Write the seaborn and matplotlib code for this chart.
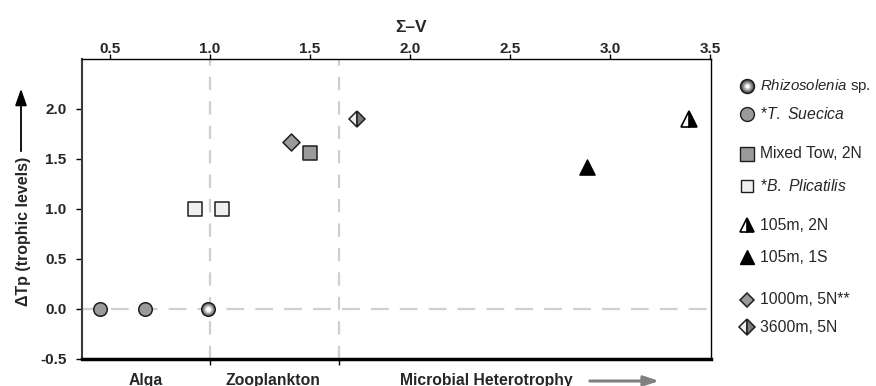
import numpy as np
import pandas as pd
import matplotlib
matplotlib.use("Agg")
import matplotlib.pyplot as plt
import matplotlib.transforms as mtransforms
import seaborn as sns

sns.set_theme(style="white")
plt.rcParams['font.family'] = ['Liberation Sans', 'DejaVu Sans']
plt.rcParams['mathtext.fontset'] = 'custom'
plt.rcParams['mathtext.rm'] = 'Liberation Sans'
plt.rcParams['mathtext.it'] = 'Liberation Sans:italic'
plt.rcParams['mathtext.bf'] = 'Liberation Sans:bold'

# ---------------- data ----------------
rhizo_x = [0.99]
rhizo_y = [0.0]
suecica_x = [0.45, 0.675]
suecica_y = [0.0, 0.0]
mixedtow_x = [1.50]
mixedtow_y = [1.56]
plicatilis_x = [0.925, 1.06]
plicatilis_y = [1.0, 1.0]
m105_2n_x = [3.395]
m105_2n_y = [1.90]
m105_1s_x = [2.885]
m105_1s_y = [1.42]
m1000_x = [1.405]
m1000_y = [1.67]
m3600_x = [1.735]
m3600_y = [1.90]

x_ticks = [0.5, 1.0, 1.5, 2.0, 2.5, 3.0, 3.5]
y_ticks = [-0.5, 0.0, 0.5, 1.0, 1.5, 2.0]
divider_x = [1.0, 1.645]
region_labels = ["Alga", "Zooplankton", "Microbial Heterotrophy"]
region_x = [0.68, 1.315, 1.95]
region_ha = ["center", "center", "left"]

legend_labels = ["$\\mathit{Rhizosolenia}$ sp.", "*$\\mathit{T.}$ $\\mathit{Suecica}$", "Mixed Tow, 2N",
                 "*$\\mathit{B.}$ $\\mathit{Plicatilis}$", "105m, 2N", "105m, 1S", "1000m, 5N**", "3600m, 5N"]

W, H = 876, 386
fig = plt.figure(figsize=(W / 100, H / 100), dpi=100)
ax = fig.add_axes([82 / W, 1 - 359 / H, (711 - 82) / W, (359 - 59) / H])

GREY = "#9a9a9a"
EDGE = "#1e1e1e"

# reference lines
for xv in divider_x:
    ax.axvline(xv, color="#cfcfcf", lw=1.6, dashes=(6, 5), zorder=1)
ax.axhline(0.0, color="#cfcfcf", lw=1.6, dashes=(8, 5), zorder=1)

def pts(xs, ys):
    return pd.DataFrame({"x": xs, "y": ys})

# grey circles
sns.scatterplot(data=pts(suecica_x, suecica_y), x="x", y="y", marker="o", s=95,
                color=GREY, edgecolor=EDGE, linewidth=1.1, ax=ax, zorder=3)
# gradient circle (radial)
for s, c in zip([95, 70, 48, 28, 12], ["#555555", "#7a7a7a", "#a5a5a5", "#d2d2d2", "#ffffff"]):
    sns.scatterplot(data=pts(rhizo_x, rhizo_y), x="x", y="y", marker="o", s=s,
                    color=c, edgecolor=EDGE if s == 95 else c,
                    linewidth=1.1 if s == 95 else 0, ax=ax, zorder=4)
# squares
sns.scatterplot(data=pts(plicatilis_x, plicatilis_y), x="x", y="y", marker="s", s=100,
                color="#efefef", edgecolor=EDGE, linewidth=1.1, ax=ax, zorder=3)
sns.scatterplot(data=pts(mixedtow_x, mixedtow_y), x="x", y="y", marker="s", s=110,
                color=GREY, edgecolor=EDGE, linewidth=1.1, ax=ax, zorder=3)
# triangles
sns.scatterplot(data=pts(m105_1s_x, m105_1s_y), x="x", y="y", marker="^", s=120,
                color="black", edgecolor="black", linewidth=1, ax=ax, zorder=3)
ax.plot(m105_2n_x, m105_2n_y, linestyle="none", marker="^", markersize=11,
        fillstyle="right", markerfacecolor="black", markerfacecoloralt="white",
        markeredgecolor="black", markeredgewidth=1.2, zorder=3)
# diamonds
sns.scatterplot(data=pts(m1000_x, m1000_y), x="x", y="y", marker="D", s=75,
                color=GREY, edgecolor=EDGE, linewidth=1.1, ax=ax, zorder=3)
ax.plot(m3600_x, m3600_y, linestyle="none", marker="D", markersize=8.5,
        fillstyle="left", markerfacecolor="#eeeeee", markerfacecoloralt="#7a7a7a",
        markeredgecolor=EDGE, markeredgewidth=1.1, zorder=3)

ax.set_xlim(0.36, 3.505)
ax.set_ylim(-0.5, 2.5)

# top axis
ax.xaxis.tick_top()
ax.set_xticks(x_ticks)
ax.set_xticklabels([f"{v:.1f}" for v in x_ticks], fontweight="bold", fontsize=11)
ax.xaxis.set_label_position("top")
ax.set_xlabel("Σ–V", fontweight="bold", fontsize=12.5)
ax.xaxis.set_label_coords((411 - 82) / 629, (359 - 32) / 300)
ax.tick_params(axis="x", top=True, bottom=False, direction="out", length=3.5, width=1,
               color="black", pad=-1)

# bottom ticks without labels
sec = ax.secondary_xaxis("bottom")
sec.set_xticks(divider_x)
sec.set_xticklabels([])
sec.tick_params(direction="out", length=4, width=1, color="black")
sec.spines["bottom"].set_visible(False)

ax.set_yticks(y_ticks)
ax.set_yticklabels([f"{v:.1f}" for v in y_ticks], fontweight="bold", fontsize=11)
ax.tick_params(axis="y", left=True, direction="out", length=4, width=1, color="black", pad=7)
ax.set_ylabel("ΔTp (trophic levels)", fontweight="bold", fontsize=11.5)
ax.yaxis.set_label_coords((31 - 82) / 629, (359 - 231) / 300)

for side in ["top", "right"]:
    ax.spines[side].set_color("black")
    ax.spines[side].set_linewidth(1.0)
ax.spines["left"].set_color("#3a3a3a")
ax.spines["left"].set_linewidth(1.5)
ax.spines["bottom"].set_color("black")
ax.spines["bottom"].set_linewidth(2.5)
ax.grid(False)

# y label arrow
fig.add_artist(matplotlib.patches.FancyArrowPatch(
    (21 / W, 1 - 154 / H), (21 / W, 1 - 86 / H), transform=fig.transFigure,
    arrowstyle="-|>,head_length=10,head_width=3.5", mutation_scale=1, color="black", lw=1.3))

# region labels under the axis
trans = mtransforms.blended_transform_factory(ax.transData, fig.transFigure)
for lab, xv, ha in zip(region_labels, region_x, region_ha):
    ax.text(xv, 1 - 380 / H, lab, transform=trans, ha=ha, va="center",
            fontweight="bold", fontsize=11.3, clip_on=False)
fig.add_artist(matplotlib.patches.FancyArrowPatch(
    (587 / W, 1 - 381 / H), (662 / W, 1 - 381 / H), transform=fig.transFigure,
    arrowstyle="-|>,head_length=9,head_width=3", mutation_scale=1, color="#808080", lw=2.2))

# legend (manual, irregular spacing)
lax = fig.add_axes([0, 0, 1, 1], facecolor="none")
lax.set_xlim(0, W)
lax.set_ylim(H, 0)
lax.axis("off")
leg_y = [86, 114, 154, 186, 225, 257, 300, 327]
mx = 747
tx = 760
# Rhizosolenia
for ms, c in zip([10, 7.5, 5.2, 3], ["#555555", "#8a8a8a", "#c0c0c0", "#ffffff"]):
    lax.plot([mx], [leg_y[0]], "o", markersize=ms, markerfacecolor=c,
             markeredgecolor=EDGE if ms == 10 else c, markeredgewidth=1.1 if ms == 10 else 0)
lax.plot([mx], [leg_y[1]], "o", markersize=10, markerfacecolor=GREY, markeredgecolor=EDGE, markeredgewidth=1)
lax.plot([mx], [leg_y[2]], "s", markersize=10.5, markerfacecolor=GREY, markeredgecolor=EDGE, markeredgewidth=1)
lax.plot([mx], [leg_y[3]], "s", markersize=9, markerfacecolor="#efefef", markeredgecolor=EDGE, markeredgewidth=1)
lax.plot([mx], [leg_y[4]], "^", markersize=10, fillstyle="right", markerfacecolor="black",
         markerfacecoloralt="white", markeredgecolor="black", markeredgewidth=1.2)
lax.plot([mx], [leg_y[5]], "^", markersize=10.5, markerfacecolor="black", markeredgecolor="black")
lax.plot([mx], [leg_y[6]], "D", markersize=7.5, markerfacecolor=GREY, markeredgecolor=EDGE, markeredgewidth=1.1)
lax.plot([mx], [leg_y[7]], "D", markersize=8, fillstyle="left", markerfacecolor="#eeeeee",
         markerfacecoloralt="#7a7a7a", markeredgecolor=EDGE, markeredgewidth=1.1)
for i, (lab, yv) in enumerate(zip(legend_labels, leg_y)):
    lax.text(tx, yv, lab, ha="left", va="center", fontsize=10.8 if i == 0 else 11.3)

fig.savefig("out.png", dpi=100)
